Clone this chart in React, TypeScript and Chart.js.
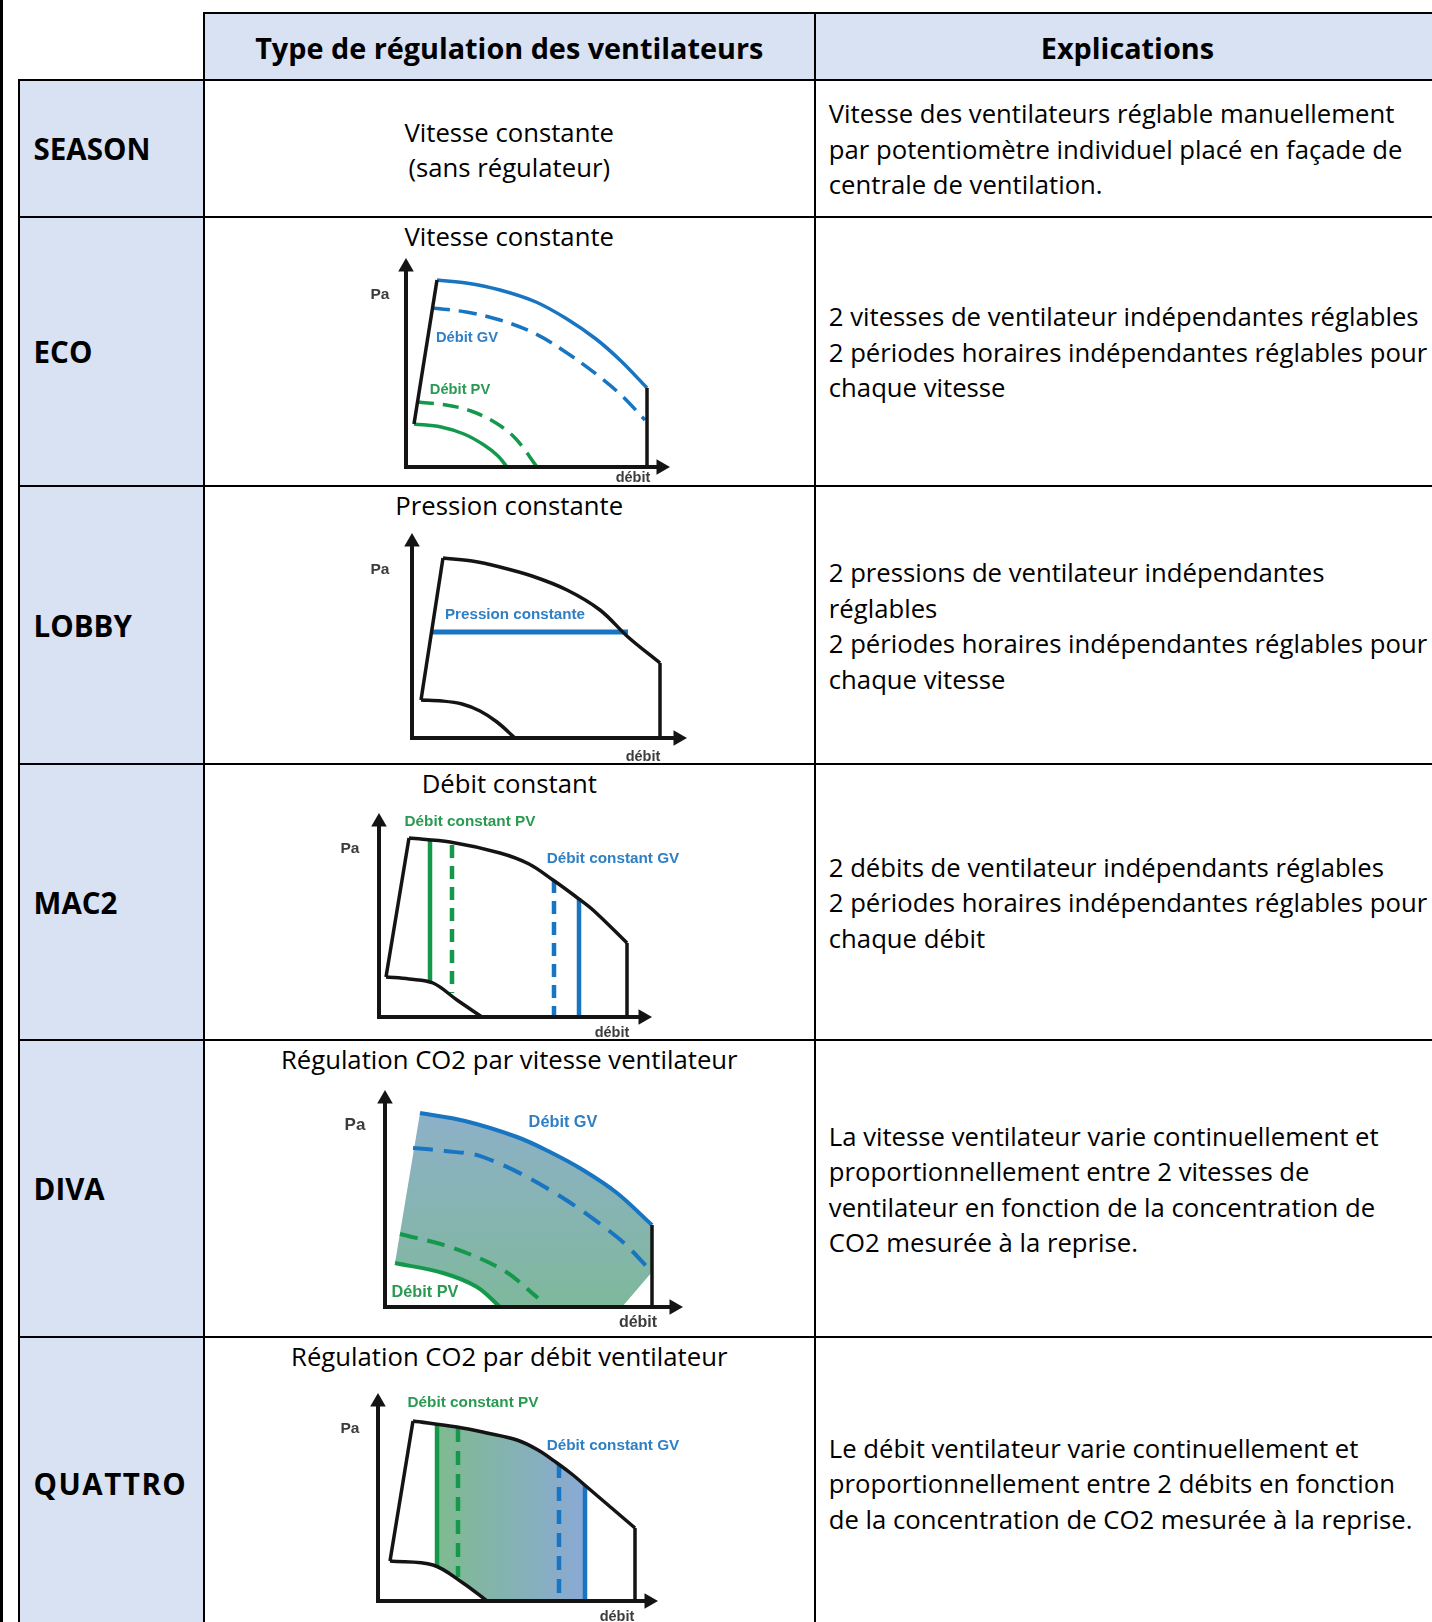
import React, { useEffect, useRef } from "react";
import { Chart, registerables } from "chart.js";

Chart.register(...registerables);

type P = { x: number; y: number };

// ---------- table text ----------
const HEADERS = ["Type de régulation des ventilateurs", "Explications"];
const ROW_LABELS = ["SEASON", "ECO", "LOBBY", "MAC2", "DIVA", "QUATTRO"];
const TYPE_TITLES = [
  ["Vitesse constante", "(sans régulateur)"],
  ["Vitesse constante"],
  ["Pression constante"],
  ["Débit constant"],
  ["Régulation CO2 par vitesse ventilateur"],
  ["Régulation CO2 par débit ventilateur"],
];
const EXPLANATIONS = [
  [
    "Vitesse des ventilateurs réglable manuellement",
    "par potentiomètre individuel placé en façade de",
    "centrale de ventilation.",
  ],
  [
    "2 vitesses de ventilateur indépendantes réglables",
    "2 périodes horaires indépendantes réglables pour",
    "chaque vitesse",
  ],
  [
    "2 pressions de ventilateur indépendantes",
    "réglables",
    "2 périodes horaires indépendantes réglables pour",
    "chaque vitesse",
  ],
  [
    "2 débits de ventilateur indépendants réglables",
    "2 périodes horaires indépendantes réglables pour",
    "chaque débit",
  ],
  [
    "La vitesse ventilateur varie continuellement et",
    "proportionnellement entre 2 vitesses de",
    "ventilateur en fonction de la concentration de",
    "CO2 mesurée à la reprise.",
  ],
  [
    "Le débit ventilateur varie continuellement et",
    "proportionnellement entre 2 débits en fonction",
    "de la concentration de CO2 mesurée à la reprise.",
  ],
];

// ---------- diagram values (x = débit, y = Pa, schematic units) ----------
// ECO
const ecoLeftEdge: P[] = [{ x: 8, y: 43 }, { x: 31, y: 187 }];
const ecoGvSolid: P[] = [
  { x: 31, y: 187 }, { x: 60, y: 184 }, { x: 94, y: 177 }, { x: 130, y: 165 },
  { x: 161, y: 148 }, { x: 190, y: 128 }, { x: 215, y: 106 }, { x: 241, y: 79 },
];
const ecoGvDashed: P[] = [
  { x: 26, y: 159 }, { x: 60, y: 155 }, { x: 94, y: 147 }, { x: 130, y: 133 },
  { x: 161, y: 114 }, { x: 190, y: 93 }, { x: 215, y: 72 }, { x: 239, y: 47 },
];
const ecoPvDashed: P[] = [
  { x: 12, y: 65 }, { x: 40, y: 62 }, { x: 65, y: 56 }, { x: 90, y: 44 },
  { x: 110, y: 28 }, { x: 131, y: 0 },
];
const ecoPvSolid: P[] = [
  { x: 8, y: 43 }, { x: 35, y: 40 }, { x: 58, y: 33 }, { x: 78, y: 22 },
  { x: 92, y: 11 }, { x: 101, y: 0 },
];
const ecoRightEdge: P[] = [{ x: 241, y: 79 }, { x: 241, y: 0 }];

// LOBBY
const lobbyTop: P[] = [
  { x: 31, y: 180 }, { x: 60, y: 177 }, { x: 88, y: 171 }, { x: 120, y: 162 },
  { x: 155, y: 148 }, { x: 188, y: 128 }, { x: 216, y: 101 }, { x: 248, y: 75 },
];
const lobbyLeftEdge: P[] = [{ x: 31, y: 180 }, { x: 9, y: 38 }];
const lobbyBottom: P[] = [
  { x: 9, y: 38 }, { x: 30, y: 37 }, { x: 50, y: 34 }, { x: 68, y: 27 },
  { x: 85, y: 16 }, { x: 103, y: 0 },
];
const lobbyRightEdge: P[] = [{ x: 248, y: 75 }, { x: 248, y: 0 }];
const lobbyPressure: P[] = [{ x: 20, y: 106 }, { x: 216, y: 106 }];

// MAC2
const mac2Top: P[] = [
  { x: 30, y: 179 }, { x: 71, y: 175 }, { x: 121, y: 164 }, { x: 150, y: 153 },
  { x: 174, y: 137 }, { x: 196, y: 121 }, { x: 214, y: 107 }, { x: 248, y: 74 },
];
const mac2LeftEdge: P[] = [{ x: 30, y: 179 }, { x: 7, y: 40 }];
const mac2Bottom: P[] = [
  { x: 7, y: 40 }, { x: 30, y: 38 }, { x: 54, y: 34 }, { x: 78, y: 17 }, { x: 103, y: 0 },
];
const mac2RightEdge: P[] = [{ x: 248, y: 74 }, { x: 248, y: 0 }];
const mac2PvSolid: P[] = [{ x: 51, y: 176 }, { x: 51, y: 35 }];
const mac2PvDashed: P[] = [{ x: 73, y: 172 }, { x: 73, y: 24 }];
const mac2GvDashed: P[] = [{ x: 175, y: 137 }, { x: 175, y: 0 }];
const mac2GvSolid: P[] = [{ x: 200, y: 119 }, { x: 200, y: 0 }];

// DIVA
const divaGvSolid: P[] = [
  { x: 35, y: 194 }, { x: 80, y: 186 }, { x: 132, y: 170 }, { x: 165, y: 155 },
  { x: 198, y: 137 }, { x: 232, y: 114 }, { x: 267, y: 82 },
];
const divaGvDashed: P[] = [
  { x: 28, y: 159 }, { x: 60, y: 156 }, { x: 98, y: 150 }, { x: 165, y: 117 },
  { x: 232, y: 70 }, { x: 267, y: 35 },
];
const divaPvDashed: P[] = [
  { x: 15, y: 73 }, { x: 65, y: 60 }, { x: 118, y: 37 }, { x: 153, y: 9 },
];
const divaPvSolid: P[] = [
  { x: 10, y: 44 }, { x: 58, y: 34 }, { x: 92, y: 20 }, { x: 115, y: 0 },
];
const divaRightEdge: P[] = [{ x: 267, y: 82 }, { x: 267, y: 0 }];
const divaBand: P[] = [
  { x: 35, y: 194 }, { x: 80, y: 186 }, { x: 132, y: 170 }, { x: 165, y: 155 },
  { x: 198, y: 137 }, { x: 232, y: 114 }, { x: 267, y: 82 }, { x: 267, y: 35 },
  { x: 237, y: 0 }, { x: 115, y: 0 }, { x: 92, y: 20 }, { x: 58, y: 34 }, { x: 10, y: 44 },
];

// QUATTRO
const quattroTop: P[] = [
  { x: 35, y: 180 }, { x: 79, y: 174 }, { x: 109, y: 168 }, { x: 139, y: 161 },
  { x: 160, y: 151 }, { x: 179, y: 138 }, { x: 195, y: 126 }, { x: 209, y: 114 },
  { x: 257, y: 73 },
];
const quattroLeftEdge: P[] = [{ x: 35, y: 180 }, { x: 12, y: 40 }];
const quattroBottom: P[] = [
  { x: 12, y: 40 }, { x: 55, y: 36 }, { x: 85, y: 18 }, { x: 109, y: 0 },
];
const quattroRightEdge: P[] = [{ x: 257, y: 73 }, { x: 257, y: 0 }];
const quattroPvSolid: P[] = [{ x: 59, y: 176 }, { x: 59, y: 34 }];
const quattroPvDashed: P[] = [{ x: 80, y: 173 }, { x: 80, y: 24 }];
const quattroGvDashed: P[] = [{ x: 181, y: 137 }, { x: 181, y: 0 }];
const quattroGvSolid: P[] = [{ x: 207, y: 116 }, { x: 207, y: 0 }];
const quattroBand: P[] = [
  { x: 59, y: 34 }, { x: 59, y: 176 }, { x: 79, y: 174 }, { x: 109, y: 168 },
  { x: 139, y: 161 }, { x: 160, y: 151 }, { x: 179, y: 138 }, { x: 195, y: 126 },
  { x: 207, y: 116 }, { x: 207, y: 0 }, { x: 109, y: 0 }, { x: 85, y: 18 }, { x: 70, y: 28 },
];

// ---------- styles ----------
const BLUE = "#1875c1";
const GREEN = "#14994c";
const BLACK = "#141414";
const LBLUE = "#2f7fc4";
const LGREEN = "#2a9a52";
const GREY = "#3c3c3c";
const HEAD_BG = "#d9e2f3";
const FONT = "'Open Sans', 'Noto Sans', sans-serif";
const BODY_SIZE = 25.7;

type Series = { data: P[]; color: string; width: number; dash?: number[]; tension?: number };
type Label = { text: string; x: number; y: number; color: string; size: number };
type Band = { data: P[]; from: string; to: string; dir: "v" | "h"; a: number; b: number };
type Diagram = {
  box: { left: number; top: number; width: number; height: number };
  origin: { x: number; y: number };
  axisX: number;
  axisY: number;
  series: Series[];
  labels: Label[];
  band?: Band;
};

const sBlack = (data: P[], tension = 0): Series => ({ data, color: BLACK, width: 3.5, tension });

const DIAGRAMS: (Diagram | null)[] = [
  null,
  {
    box: { left: 330, top: 245, width: 390, height: 240 },
    origin: { x: 406, y: 467 },
    axisX: 264,
    axisY: 209,
    series: [
      sBlack(ecoLeftEdge),
      sBlack(ecoRightEdge),
      { data: ecoGvSolid, color: BLUE, width: 3.5, tension: 0.35 },
      { data: ecoGvDashed, color: BLUE, width: 3.5, dash: [18, 9], tension: 0.35 },
      { data: ecoPvDashed, color: GREEN, width: 3.5, dash: [16, 9], tension: 0.35 },
      { data: ecoPvSolid, color: GREEN, width: 3.5, tension: 0.35 },
    ],
    labels: [
      { text: "Pa", x: -26, y: 172, color: GREY, size: 15.5 },
      { text: "débit", x: 227, y: -11, color: GREY, size: 14.5 },
      { text: "Débit GV", x: 61, y: 129, color: LBLUE, size: 14.7 },
      { text: "Débit PV", x: 54, y: 77, color: LGREEN, size: 14.7 },
    ],
  },
  {
    box: { left: 330, top: 520, width: 390, height: 242 },
    origin: { x: 412, y: 738 },
    axisX: 275,
    axisY: 205,
    series: [
      sBlack(lobbyTop, 0.35),
      sBlack(lobbyLeftEdge),
      sBlack(lobbyBottom, 0.35),
      sBlack(lobbyRightEdge),
      { data: lobbyPressure, color: BLUE, width: 5 },
    ],
    labels: [
      { text: "Pa", x: -32, y: 168, color: GREY, size: 15.5 },
      { text: "débit", x: 231, y: -19, color: GREY, size: 14.5 },
      { text: "Pression constante", x: 103, y: 123, color: LBLUE, size: 15.2 },
    ],
  },
  {
    box: { left: 300, top: 800, width: 420, height: 238 },
    origin: { x: 379, y: 1017 },
    axisX: 273,
    axisY: 204,
    series: [
      sBlack(mac2Top, 0.35),
      sBlack(mac2LeftEdge),
      sBlack(mac2Bottom, 0.35),
      sBlack(mac2RightEdge),
      { data: mac2PvSolid, color: GREEN, width: 4.5 },
      { data: mac2PvDashed, color: GREEN, width: 4.5, dash: [13, 8] },
      { data: mac2GvDashed, color: BLUE, width: 4.5, dash: [13, 8] },
      { data: mac2GvSolid, color: BLUE, width: 4.5 },
    ],
    labels: [
      { text: "Pa", x: -29, y: 168, color: GREY, size: 15.5 },
      { text: "débit", x: 233, y: -16, color: GREY, size: 14.5 },
      { text: "Débit constant PV", x: 91, y: 195, color: LGREEN, size: 15.3 },
      { text: "Débit constant GV", x: 234, y: 158, color: LBLUE, size: 15.3 },
    ],
  },
  {
    box: { left: 300, top: 1078, width: 420, height: 257 },
    origin: { x: 385, y: 1307 },
    axisX: 298,
    axisY: 217,
    series: [
      sBlack(divaRightEdge),
      { data: divaGvSolid, color: BLUE, width: 4, tension: 0.35 },
      { data: divaGvDashed, color: BLUE, width: 4, dash: [20, 11], tension: 0.35 },
      { data: divaPvDashed, color: GREEN, width: 4, dash: [18, 10], tension: 0.35 },
      { data: divaPvSolid, color: GREEN, width: 4, tension: 0.35 },
    ],
    labels: [
      { text: "Pa", x: -30, y: 182, color: GREY, size: 17 },
      { text: "débit", x: 253, y: -16, color: GREY, size: 16 },
      { text: "Débit GV", x: 178, y: 184, color: LBLUE, size: 16.3 },
      { text: "Débit PV", x: 40, y: 14, color: LGREEN, size: 16.3 },
    ],
    band: { data: divaBand, from: "#8db0c8", to: "#7fb89c", dir: "v", a: 194, b: 0 },
  },
  {
    box: { left: 300, top: 1380, width: 420, height: 242 },
    origin: { x: 378, y: 1601 },
    axisX: 280,
    axisY: 208,
    series: [
      sBlack(quattroTop, 0.35),
      sBlack(quattroLeftEdge),
      sBlack(quattroBottom, 0.35),
      sBlack(quattroRightEdge),
      { data: quattroPvSolid, color: GREEN, width: 4.5 },
      { data: quattroPvDashed, color: GREEN, width: 4.5, dash: [14, 9] },
      { data: quattroGvDashed, color: BLUE, width: 4.5, dash: [14, 9] },
      { data: quattroGvSolid, color: BLUE, width: 4.5 },
    ],
    labels: [
      { text: "Pa", x: -28, y: 172, color: GREY, size: 15.5 },
      { text: "débit", x: 239, y: -16, color: GREY, size: 14.5 },
      { text: "Débit constant PV", x: 95, y: 198, color: LGREEN, size: 15.3 },
      { text: "Débit constant GV", x: 235, y: 155, color: LBLUE, size: 15.3 },
    ],
    band: { data: quattroBand, from: "#7fbb8f", to: "#8aa9d6", dir: "h", a: 59, b: 207 },
  },
];

// ---------- layout ----------
const COL_X = [18.6, 203.7, 814.8, 1440];
const ROW_Y = [13.4, 79.6, 217.2, 486.1, 764.2, 1040.3, 1337.1, 1629];
const LINE_H = 35.6;

function MiniChart({ d }: { d: Diagram }) {
  const ref = useRef<HTMLCanvasElement | null>(null);
  useEffect(() => {
    if (!ref.current) return;
    const { box, origin, axisX, axisY } = d;
    const pad = {
      left: origin.x - box.left,
      top: origin.y - axisY - box.top,
      right: box.left + box.width - (origin.x + axisX),
      bottom: box.top + box.height - origin.y,
    };
    const ARROW = 9;
    const datasets: any[] = [
      {
        data: [{ x: 0, y: axisY - ARROW }, { x: 0, y: 0 }, { x: axisX - ARROW, y: 0 }],
        borderColor: BLACK,
        borderWidth: 4,
        borderJoinStyle: "miter",
        pointRadius: 0,
        tension: 0,
        clip: false,
      },
      {
        data: [{ x: 0, y: axisY - ARROW }],
        showLine: false,
        pointStyle: "triangle",
        pointRadius: ARROW,
        pointRotation: 0,
        pointBackgroundColor: BLACK,
        pointBorderColor: BLACK,
        pointBorderWidth: 0,
        clip: false,
      },
      {
        data: [{ x: axisX - ARROW, y: 0 }],
        showLine: false,
        pointStyle: "triangle",
        pointRadius: ARROW,
        pointRotation: 90,
        pointBackgroundColor: BLACK,
        pointBorderColor: BLACK,
        pointBorderWidth: 0,
        clip: false,
      },
    ];
    for (const s of d.series) {
      datasets.push({
        data: s.data,
        borderColor: s.color,
        borderWidth: s.width,
        borderDash: s.dash || [],
        borderCapStyle: "butt",
        tension: s.tension || 0,
        pointRadius: 0,
        fill: false,
        clip: false,
      });
    }
    if (d.band) {
      const b = d.band;
      datasets.push({
        data: b.data,
        fill: "shape",
        borderWidth: 0,
        borderColor: "rgba(0,0,0,0)",
        pointRadius: 0,
        tension: 0,
        clip: false,
        backgroundColor: (c: any) => {
          const ch = c.chart;
          const xs = ch.scales && ch.scales.x;
          const ys = ch.scales && ch.scales.y;
          if (!xs || !ys || !ch.chartArea) return b.from;
          const p0 = b.dir === "v" ? ys.getPixelForValue(b.a) : xs.getPixelForValue(b.a);
          const p1 = b.dir === "v" ? ys.getPixelForValue(b.b) : xs.getPixelForValue(b.b);
          if (!isFinite(p0) || !isFinite(p1)) return b.from;
          const g =
            b.dir === "v"
              ? ch.ctx.createLinearGradient(0, p0, 0, p1)
              : ch.ctx.createLinearGradient(p0, 0, p1, 0);
          g.addColorStop(0, b.from);
          g.addColorStop(1, b.to);
          return g;
        },
      });
    }
    const labelPlugin = {
      id: "diagramLabels",
      afterDatasetsDraw(chart: any) {
        const { ctx } = chart;
        const xs = chart.scales.x;
        const ys = chart.scales.y;
        ctx.save();
        ctx.textAlign = "center";
        ctx.textBaseline = "middle";
        for (const l of d.labels) {
          ctx.font = `bold ${l.size}px 'Liberation Sans', Arial, sans-serif`;
          ctx.fillStyle = l.color;
          ctx.fillText(l.text, xs.getPixelForValue(l.x), ys.getPixelForValue(l.y));
        }
        ctx.restore();
      },
    };
    let chart: any = null;
    try {
      chart = new Chart(ref.current, {
        type: "line",
        data: { datasets },
        options: {
          animation: false,
          responsive: false,
          maintainAspectRatio: false,
          events: [],
          layout: { padding: pad },
          plugins: { legend: { display: false }, tooltip: { enabled: false } },
          scales: {
            x: { type: "linear", min: 0, max: axisX, display: false },
            y: { type: "linear", min: 0, max: axisY, display: false },
          },
        },
        plugins: [labelPlugin],
      } as any);
      chart.update();
    } catch (e) {
      console.error(e);
    }
    return () => {
      if (chart) chart.destroy();
    };
  }, [d]);
  return (
    <canvas
      ref={ref}
      width={d.box.width}
      height={d.box.height}
      style={{
        position: "absolute",
        left: d.box.left,
        top: d.box.top,
        width: d.box.width,
        height: d.box.height,
      }}
    />
  );
}

function Cell({
  c0, c1, r0, r1, bg, children, style,
}: {
  c0: number; c1: number; r0: number; r1: number; bg: string; children?: any; style?: any;
}) {
  return (
    <div
      style={{
        position: "absolute",
        left: c0 - 1,
        top: r0 - 1,
        width: c1 - c0 + 2,
        height: r1 - r0 + 2,
        boxSizing: "border-box",
        border: "2px solid #000",
        background: bg,
        ...style,
      }}
    >
      {children}
    </div>
  );
}

export default function App() {
  const textBase = {
    fontFamily: FONT,
    color: "#000",
    whiteSpace: "nowrap" as const,
  };
  return (
    <div
      style={{
        position: "absolute",
        left: 0,
        top: 0,
        width: 1432,
        height: 1622,
        overflow: "hidden",
        background: "#fff",
      }}
    >
      <div style={{ position: "absolute", left: 0, top: 0, width: 2.5, height: 1622, background: "#000" }} />
      {HEADERS.map((h, i) => (
        <Cell key={"h" + i} c0={COL_X[i + 1]} c1={COL_X[i + 2]} r0={ROW_Y[0]} r1={ROW_Y[1]} bg={HEAD_BG}>
          <div
            style={{
              ...textBase,
              height: "100%",
              display: "flex",
              alignItems: "center",
              justifyContent: "center",
              paddingTop: 3,
              boxSizing: "border-box",
              fontWeight: 700,
              fontSize: 28.8,
            }}
          >
            {h}
          </div>
        </Cell>
      ))}
      {ROW_LABELS.map((lab, r) => (
        <React.Fragment key={"r" + r}>
          <Cell c0={COL_X[0]} c1={COL_X[1]} r0={ROW_Y[r + 1]} r1={ROW_Y[r + 2]} bg={HEAD_BG}>
            <div
              style={{
                ...textBase,
                height: "100%",
                display: "flex",
                alignItems: "center",
                paddingLeft: 14,
                fontWeight: 700,
                fontSize: 29.5,
                letterSpacing: lab === "QUATTRO" ? 1.5 : 0,
              }}
            >
              {lab}
            </div>
          </Cell>
          <Cell c0={COL_X[1]} c1={COL_X[2]} r0={ROW_Y[r + 1]} r1={ROW_Y[r + 2]} bg="#fff">
            <div
              style={{
                ...textBase,
                height: "100%",
                display: "flex",
                flexDirection: "column",
                alignItems: "center",
                justifyContent: r === 0 ? "center" : "flex-start",
                paddingTop: r === 0 ? 4 : 1,
                boxSizing: "border-box",
                fontSize: BODY_SIZE,
                lineHeight: LINE_H + "px",
              }}
            >
              {TYPE_TITLES[r].map((t, k) => (
                <div key={k}>{t}</div>
              ))}
            </div>
          </Cell>
          <Cell c0={COL_X[2]} c1={COL_X[3]} r0={ROW_Y[r + 1]} r1={ROW_Y[r + 2]} bg="#fff">
            <div
              style={{
                ...textBase,
                height: "100%",
                display: "flex",
                flexDirection: "column",
                justifyContent: "center",
                paddingLeft: 13,
                paddingTop: 2,
                boxSizing: "border-box",
                fontSize: BODY_SIZE,
                lineHeight: LINE_H + "px",
              }}
            >
              {EXPLANATIONS[r].map((t, k) => (
                <div key={k}>{t}</div>
              ))}
            </div>
          </Cell>
        </React.Fragment>
      ))}
      {DIAGRAMS.map((d, i) => (d ? <MiniChart key={"d" + i} d={d} /> : null))}
    </div>
  );
}
